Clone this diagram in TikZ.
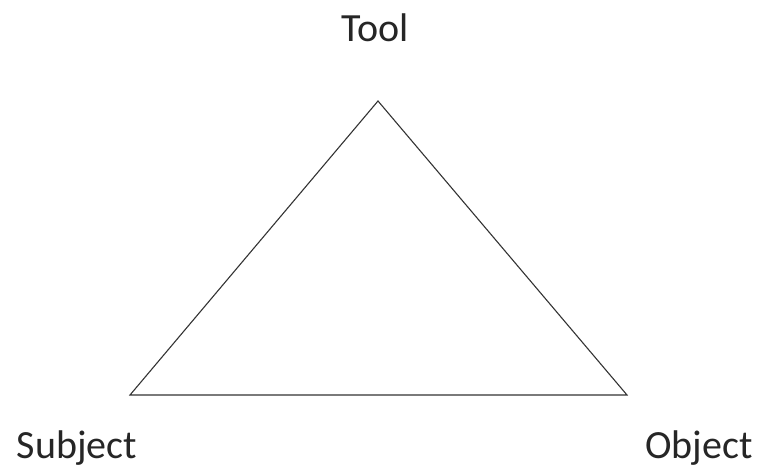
\documentclass[tikz,border=0pt]{standalone}
\usepackage{fontspec}
\setmainfont{Carlito}
\begin{document}
\begin{tikzpicture}[x=1pt,y=-1pt,
  lbl/.style={font=\fontsize{40}{46}\selectfont, inner sep=0pt, anchor=base, text=black!85}]
\useasboundingbox (0,0) rectangle (760,468);
\coordinate (t) at (378,101);
\coordinate (l) at (130,395);
\coordinate (r) at (627,395);
\draw[line width=1.1pt, black!80, line join=miter] (t) -- (r) -- (l) -- cycle;
\node[lbl] (tool) at (375,42) {Tool};
\node[lbl] (subj) at (77,458) {Subject};
\node[lbl] (obj) at (699,458) {Object};
\end{tikzpicture}
\end{document}
